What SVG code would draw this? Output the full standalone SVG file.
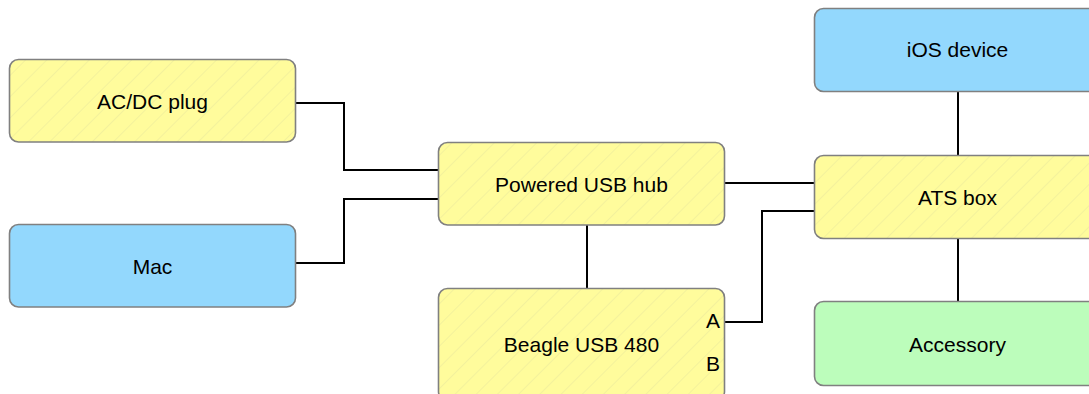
<svg xmlns="http://www.w3.org/2000/svg" width="1089" height="394" viewBox="0 0 1089 394">
<style>
.box{stroke:#808080;stroke-width:1.6}
.y{fill:#fffc9c}
.h{fill:url(#hatch)}
.b{fill:#93d8fd}
.g{fill:#bcfdbb}
.t{font-family:"Liberation Sans",Arial,sans-serif;font-size:21px;fill:#000;text-anchor:middle}
.c{fill:none;stroke:#000;stroke-width:2}
</style>
<defs>
<pattern id="hatch" patternUnits="userSpaceOnUse" width="15" height="15" patternTransform="rotate(45)">
<rect width="15" height="15" fill="#fffc9c"/>
<line x1="0" y1="0" x2="0" y2="15" stroke="#ecea9c" stroke-width="1.2"/>
</pattern>
</defs>
<rect width="1089" height="394" fill="#fff"/>
<g id="connectors">
<polyline class="c" points="295,103 344,103 344,170 438,170"/>
<polyline class="c" points="295,263 344,263 344,199 438,199"/>
<line class="c" x1="724" y1="183" x2="814" y2="183"/>
<polyline class="c" points="724,322 762,322 762,211 814,211"/>
<line class="c" x1="587" y1="225" x2="587" y2="289"/>
<line class="c" x1="958" y1="92" x2="958" y2="155"/>
<line class="c" x1="958" y1="238" x2="958" y2="301"/>
</g>
<g id="acdc">
<rect class="box h" x="9.5" y="59.5" width="286" height="82.5" rx="9"/>
<text class="t" x="152.5" y="109">AC/DC plug</text>
</g>
<g id="mac">
<rect class="box b" x="9.5" y="224.5" width="286" height="82.5" rx="9"/>
<text class="t" x="152.5" y="274">Mac</text>
</g>
<g id="hub">
<rect class="box h" x="438.5" y="142.5" width="286" height="82.5" rx="9"/>
<text class="t" x="581.5" y="191.5">Powered USB hub</text>
</g>
<g id="beagle">
<rect class="box h" x="438.5" y="288.5" width="286" height="112" rx="9"/>
<text class="t" x="581.5" y="352">Beagle USB 480</text>
<text class="t" x="713" y="328">A</text>
<text class="t" x="713" y="371">B</text>
</g>
<g id="ios">
<rect class="box b" x="814.5" y="8.5" width="286" height="83" rx="9"/>
<text class="t" x="957.5" y="57">iOS device</text>
</g>
<g id="ats">
<rect class="box h" x="814.5" y="155.5" width="286" height="83" rx="9"/>
<text class="t" x="957.5" y="204.5">ATS box</text>
</g>
<g id="accessory">
<rect class="box g" x="814.5" y="301.5" width="286" height="84" rx="9"/>
<text class="t" x="957.5" y="352">Accessory</text>
</g>
</svg>
